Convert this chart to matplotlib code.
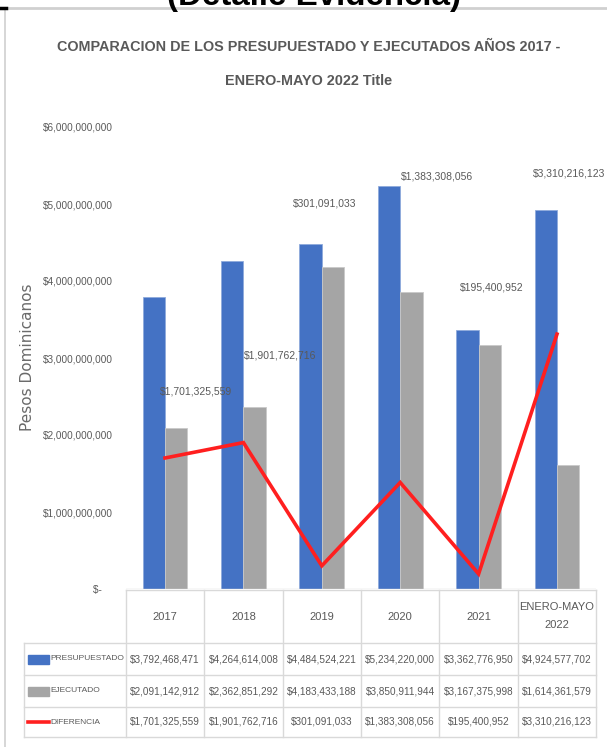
import matplotlib
matplotlib.use("Agg")
import matplotlib.pyplot as plt
from matplotlib.ticker import FuncFormatter
from matplotlib.patches import Rectangle
from matplotlib.lines import Line2D
import numpy as np

# data
categorias = ["2017", "2018", "2019", "2020", "2021", "ENERO-MAYO\n2022"]
presupuestado = [3792468471, 4264614008, 4484524221, 5234220000, 3362776950, 4924577702]
ejecutado = [2091142912, 2362851292, 4183433188, 3850911944, 3167375998, 1614361579]
diferencia = [1701325559, 1901762716, 301091033, 1383308056, 195400952, 3310216123]
series_nombres = ["PRESUPUESTADO", "EJECUTADO", "DIFERENCIA"]
yticks = [0, 1e9, 2e9, 3e9, 4e9, 5e9, 6e9]

# where the line labels sit (x offset from category, y in data units)
label_dx = [0.40, 0.47, 0.04, 0.47, 0.17, 0.15]
label_y = [2.56e9, 3.03e9, 5.0e9, 5.36e9, 3.92e9, 5.40e9]

AZUL = "#4472C4"
GRIS = "#A5A5A5"
ROJO = "#FF1F1F"
TXT = "#595959"
LINEA = "#D9D9D9"
FONT = "Liberation Sans"
FS = 7.2

W, H = 607, 747
fig = plt.figure(figsize=(W / 100, H / 100), dpi=100)


def fx(x):
    return x / W


def fy(y):
    return 1 - y / H


def fit_width(t, target):
    # scale a text's font size so it spans target pixels
    r = fig.canvas.get_renderer()
    wpx = t.get_window_extent(r).width
    t.set_fontsize(t.get_fontsize() * target / wpx)


# chart frame
fig.add_artist(Line2D([fx(5), fx(607)], [fy(8), fy(8)], color="#D0D0D0", lw=2))
fig.add_artist(Line2D([fx(5), fx(5)], [fy(8), fy(747)], color="#D0D0D0", lw=1.2))
fig.add_artist(Line2D([0, fx(6)], [fy(8), fy(8)], color="black", lw=2.5))
top = fig.text(fx(314), fy(5), "(Detalle Evidencia)", ha="center", va="baseline",
               fontsize=20, fontweight="bold", color="black", family=FONT)
fit_width(top, 294)

# title
t1 = fig.text(fx(308.5), fy(47), "COMPARACION DE LOS PRESUPUESTADO Y EJECUTADOS AÑOS 2017 -",
              ha="center", va="center", fontsize=10, color="#595959",
              fontweight="bold", family=FONT)
fit_width(t1, 505)
fig.text(fx(308.5), fy(81), "ENERO-MAYO 2022 Title", ha="center", va="center",
         fontsize=t1.get_fontsize(), color="#595959", fontweight="bold", family=FONT)

x0, x1 = 125.8, 596.2
ax = fig.add_axes([fx(x0), fy(589), fx(x1 - x0), (589 - 127) / H])
x = np.arange(len(categorias))
w = 0.285
ax.bar(x - w / 2, presupuestado, w, color=AZUL, edgecolor="#8FAADC", lw=0.6)
ax.bar(x + w / 2, ejecutado, w, color=GRIS, edgecolor="#C9C9C9", lw=0.6)
ax.plot(x, diferencia, color=ROJO, lw=2.6, solid_joinstyle="miter")
ax.axhline(0, color=LINEA, lw=1)

for i, v in enumerate(diferencia):
    ax.text(x[i] + label_dx[i], label_y[i], "${:,}".format(v), ha="center",
            va="center", fontsize=FS + 0.3, color=TXT, family=FONT)

ax.set_xlim(-0.5, len(categorias) - 0.5)
ax.set_ylim(0, 6e9)
ax.set_yticks(yticks)
ax.yaxis.set_major_formatter(FuncFormatter(
    lambda v, p: "$-    " if v == 0 else "${:,.0f}".format(v)))
ax.tick_params(axis="y", length=0, pad=9, labelsize=FS, labelcolor=TXT)
for lab in ax.get_yticklabels():
    lab.set_family(FONT)
ax.set_xticks([])
for s in ax.spines.values():
    s.set_visible(False)

fig.text(fx(28), fy(357), "Pesos Dominicanos", rotation=90, ha="center",
         va="center", fontsize=11, color="#6a6a6a", family="DejaVu Sans")

# data table under the chart
col = (x1 - x0) / len(categorias)
rows = [590, 643, 675, 707, 737]
left = 24
fig.add_artist(Line2D([fx(x0), fx(x1)], [fy(rows[0])] * 2, color=LINEA, lw=1))
for r in rows[1:]:
    fig.add_artist(Line2D([fx(left), fx(x1)], [fy(r)] * 2, color=LINEA, lw=1))
fig.add_artist(Line2D([fx(left)] * 2, [fy(rows[1]), fy(rows[-1])], color=LINEA, lw=1))
for j in range(len(categorias) + 1):
    xx = x0 + j * col
    fig.add_artist(Line2D([fx(xx)] * 2, [fy(rows[0]), fy(rows[-1])], color=LINEA, lw=1))

for j, c in enumerate(categorias):
    fig.text(fx(x0 + (j + 0.5) * col), fy((rows[0] + rows[1]) / 2), c,
             ha="center", va="center", fontsize=FS + 0.8, color=TXT, family=FONT,
             linespacing=2.0)

valores = [presupuestado, ejecutado, diferencia]
for k, serie in enumerate(valores):
    yc = (rows[k + 1] + rows[k + 2]) / 2
    if k < 2:
        fig.add_artist(Rectangle((fx(28), fy(yc + 4.5)), fx(21), 9 / H,
                                 color=[AZUL, GRIS][k]))
    else:
        fig.add_artist(Line2D([fx(28), fx(49)], [fy(yc)] * 2, color=ROJO, lw=2.6))
    rl = fig.text(fx(50.5), fy(yc), series_nombres[k], ha="left", va="center",
                  fontsize=FS, color=TXT, family=FONT)
    if k == 0:
        fit_width(rl, 74)
        fs_row = rl.get_fontsize()
    else:
        rl.set_fontsize(fs_row)
    for j, v in enumerate(serie):
        fig.text(fx(x0 + (j + 0.5) * col), fy(yc), "${:,}".format(v),
                 ha="center", va="center", fontsize=FS, color=TXT, family=FONT)

fig.savefig("out.png", dpi=100)
